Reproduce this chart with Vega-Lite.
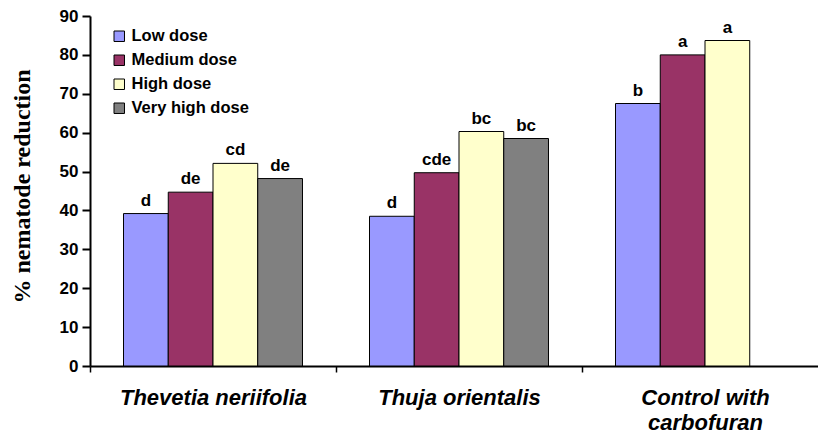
{
  "$schema": "https://vega.github.io/schema/vega-lite/v6.json",
  "width": 738,
  "height": 350,
  "autosize": {"type": "none"},
  "padding": {"left": 90, "top": 16, "right": 0, "bottom": 70},
  "background": "white",
  "config": {
    "view": {"stroke": null},
    "font": "Liberation Sans"
  },
  "data": {
    "values": [
      {"group": "Thevetia neriifolia", "dose": "Low dose", "value": 39.2, "sig": "d"},
      {"group": "Thevetia neriifolia", "dose": "Medium dose", "value": 44.7, "sig": "de"},
      {"group": "Thevetia neriifolia", "dose": "High dose", "value": 52.1, "sig": "cd"},
      {"group": "Thevetia neriifolia", "dose": "Very high dose", "value": 48.2, "sig": "de"},
      {"group": "Thuja orientalis", "dose": "Low dose", "value": 38.5, "sig": "d"},
      {"group": "Thuja orientalis", "dose": "Medium dose", "value": 49.7, "sig": "cde"},
      {"group": "Thuja orientalis", "dose": "High dose", "value": 60.3, "sig": "bc"},
      {"group": "Thuja orientalis", "dose": "Very high dose", "value": 58.5, "sig": "bc"},
      {"group": "Control with carbofuran", "dose": "Low dose", "value": 67.5, "sig": "b"},
      {"group": "Control with carbofuran", "dose": "Medium dose", "value": 80.0, "sig": "a"},
      {"group": "Control with carbofuran", "dose": "High dose", "value": 83.7, "sig": "a"}
    ]
  },
  "encoding": {
    "x": {
      "field": "group",
      "type": "nominal",
      "sort": ["Thevetia neriifolia", "Thuja orientalis", "Control with carbofuran"],
      "scale": {"paddingInner": 0, "paddingOuter": 0},
      "axis": {
        "title": null,
        "labelAngle": 0,
        "labelFont": "Liberation Sans",
        "labelFontSize": 22,
        "labelFontWeight": "bold",
        "labelFontStyle": "italic",
        "labelColor": "black",
        "labelPadding": 15,
        "labelLineHeight": 25,
        "labelLimit": 400,
        "labelOverlap": false,
        "labelExpr": "datum.value == 'Control with carbofuran' ? ['Control with', 'carbofuran'] : datum.value",
        "domainColor": "black",
        "domainWidth": 2,
        "tickColor": "black",
        "tickWidth": 1.5,
        "tickSize": 6,
        "tickBand": "extent"
      }
    },
    "xOffset": {
      "field": "dose",
      "type": "nominal",
      "sort": ["Low dose", "Medium dose", "High dose", "Very high dose"],
      "scale": {"domain": ["Low dose", "Medium dose", "High dose", "Very high dose"], "paddingInner": 0, "paddingOuter": 0.749}
    },
    "y": {
      "field": "value",
      "type": "quantitative",
      "scale": {"domain": [0, 90]},
      "axis": {
        "title": "% nematode reduction",
        "titleFont": "Liberation Serif",
        "titleFontSize": 24,
        "titleFontWeight": "bold",
        "titleColor": "black",
        "titlePadding": 25,
        "titleY": 170,
        "values": [0, 10, 20, 30, 40, 50, 60, 70, 80, 90],
        "labelFont": "Liberation Sans",
        "labelFontSize": 17,
        "labelFontWeight": "bold",
        "labelColor": "black",
        "labelPadding": 4,
        "grid": false,
        "domainColor": "black",
        "domainWidth": 2,
        "tickColor": "black",
        "tickWidth": 2,
        "tickSize": 8
      }
    }
  },
  "layer": [
    {
      "mark": {"type": "bar", "stroke": "black", "strokeWidth": 1},
      "encoding": {
        "color": {
          "field": "dose",
          "type": "nominal",
          "scale": {
            "domain": ["Low dose", "Medium dose", "High dose", "Very high dose"],
            "range": ["#9999FF", "#993366", "#FFFFCC", "#808080"]
          },
          "legend": {
            "title": null,
            "orient": "none",
            "legendX": 21,
            "legendY": 12,
            "symbolType": "square",
            "symbolSize": 110,
            "symbolStrokeColor": "black",
            "symbolStrokeWidth": 1,
            "symbolOpacity": 1,
            "labelFont": "Liberation Sans",
            "labelFontSize": 16.5,
            "labelFontWeight": "bold",
            "labelColor": "black",
            "labelOffset": 4,
            "rowPadding": 7
          }
        }
      }
    },
    {
      "mark": {"type": "text", "baseline": "bottom", "dy": -4, "font": "Liberation Sans", "fontSize": 17, "fontWeight": "bold", "color": "black"},
      "encoding": {
        "text": {"field": "sig"}
      }
    }
  ]
}
